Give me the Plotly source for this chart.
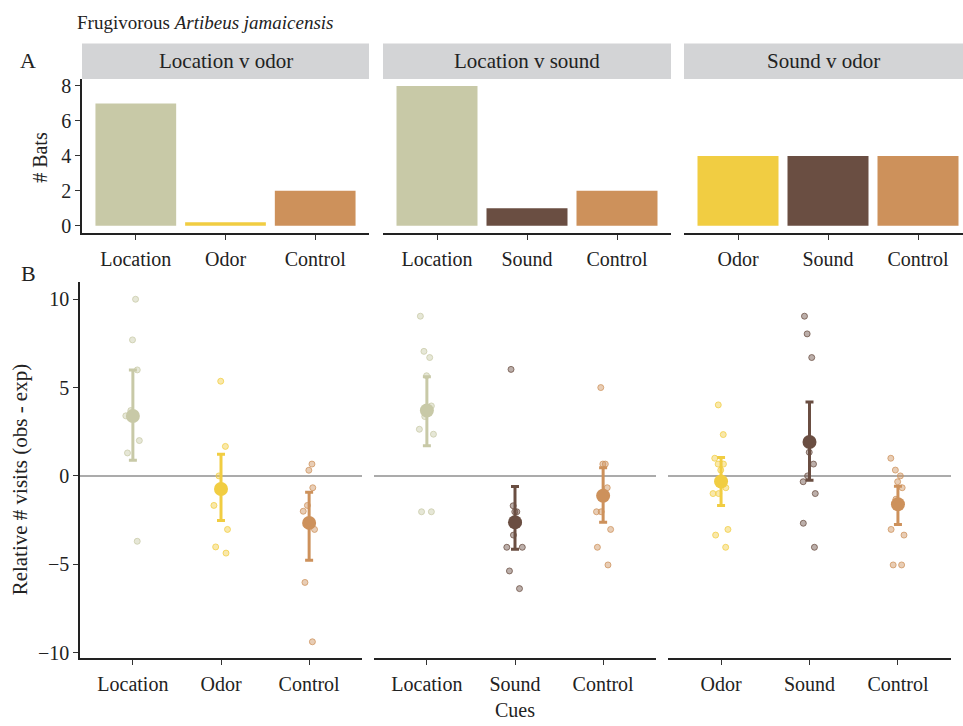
import plotly.graph_objects as go

W, H = 963, 726
FONT = "Liberation Serif"
TXT = "#222222"

# ---------------- data ----------------
panel_titles = ["Location v odor", "Location v sound", "Sound v odor"]
cues_1 = ["Location", "Odor", "Control"]
cues_2 = ["Location", "Sound", "Control"]
cues_3 = ["Odor", "Sound", "Control"]

# A: number of bats choosing each cue
bats_1 = [7, 0.2, 2]
bats_2 = [8, 1, 2]
bats_3 = [4, 4, 4]

# B: relative number of visits (obs - exp) per bat
p1_location = [10.0, 7.7, 6.0, 3.7, 3.4, 2.0, 1.3, -3.7]
p1_odor = [5.36, 1.67, 0.0, -1.67, -3.03, -4.02, -4.37]
p1_control = [0.67, 0.32, -0.67, -1.67, -2.0, -3.03, -6.03, -9.39]

p2_location = [9.04, 7.05, 6.7, 5.67, 3.96, 3.36, 2.64, 2.36, -2.03, -2.03]
p2_sound = [6.03, -1.69, -2.03, -2.03, -2.7, -3.35, -4.04, -4.04, -5.38, -6.38]
p2_control = [5.0, 0.67, 0.67, -0.67, -2.03, -2.03, -3.03, -4.04, -5.04]

p3_odor = [4.02, 2.34, 1.0, 0.67, 0.67, 0.33, -0.67, -1.0, -1.0, -3.03, -3.35, -4.04]
p3_sound = [9.04, 8.04, 6.7, 1.34, 0.67, 0.0, -0.33, -1.0, -2.68, -4.04]
p3_control = [1.0, 0.33, 0.0, -0.33, -0.67, -1.32, -3.03, -3.35, -5.04, -5.04]

# means and confidence limits
mean_1 = [3.39, -0.74, -2.66]
lo_1 = [0.89, -2.53, -4.78]
hi_1 = [6.0, 1.23, -0.93]

mean_2 = [3.7, -2.62, -1.12]
lo_2 = [1.71, -4.15, -2.62]
hi_2 = [5.62, -0.6, 0.46]

mean_3 = [-0.32, 1.92, -1.6]
lo_3 = [-1.67, -0.24, -2.75]
hi_3 = [1.04, 4.19, -0.58]

top_ticks = [0, 2, 4, 6, 8]
bottom_ticks = [-10, -5, 0, 5, 10]

# ---------------- styling ----------------
COLORS = {"Location": "#C8C9A7", "Odor": "#F1CD42", "Sound": "#6A4E42", "Control": "#CD915B"}
FS = 20


def rgba(hexc, a):
    h = hexc.lstrip("#")
    r, g, b = int(h[0:2], 16), int(h[2:4], 16), int(h[4:6], 16)
    return f"rgba({r},{g},{b},{a})"


def fx(px):
    return px / W


def fy(py):
    return 1 - py / H


top_dom_x = [(82, 369), (383, 671), (684, 963)]
top_ranges_x = [[-0.6, 2.6], [-0.6, 2.6], [-0.6, 2.5]]
top_dom_y = (76, 232)
bot_dom_x = [(80, 362), (374, 656), (668, 951)]
bot_dom_y = (282, 663)

fig = go.Figure()

cue_sets = [cues_1, cues_2, cues_3]
bat_sets = [bats_1, bats_2, bats_3]
point_sets = [[p1_location, p1_odor, p1_control],
              [p2_location, p2_sound, p2_control],
              [p3_odor, p3_sound, p3_control]]
mean_sets = [mean_1, mean_2, mean_3]
lo_sets = [lo_1, lo_2, lo_3]
hi_sets = [hi_1, hi_2, hi_3]

layout_axes = {}
shapes = []
annotations = []

for i in range(3):
    cues = cue_sets[i]
    xa_top = f"x{i+1}"
    ya_top = f"y{i+1}"
    xa_bot = f"x{i+4}"
    ya_bot = f"y{i+4}"

    # bars (panel A)
    fig.add_trace(go.Bar(
        x=cues, y=bat_sets[i], xaxis=xa_top, yaxis=ya_top,
        marker=dict(color=[COLORS[c] for c in cues], line=dict(width=0)),
        width=0.9, showlegend=False, hoverinfo="skip"))

    # jittered points (panel B)
    for c, vals in zip(cues, point_sets[i]):
        fig.add_trace(go.Box(
            x=[c] * len(vals), y=vals, xaxis=xa_bot, yaxis=ya_bot,
            boxpoints="all", jitter=0.55, pointpos=0, width=0.4,
            fillcolor="rgba(0,0,0,0)", line=dict(width=0, color="rgba(0,0,0,0)"),
            marker=dict(size=6, color=rgba(COLORS[c], 0.45),
                        line=dict(width=1, color=rgba(COLORS[c], 0.75))),
            showlegend=False, hoverinfo="skip"))

    # means with error bars
    for c, m, lo, hi in zip(cues, mean_sets[i], lo_sets[i], hi_sets[i]):
        fig.add_trace(go.Scatter(
            x=[c], y=[m], xaxis=xa_bot, yaxis=ya_bot, mode="markers",
            marker=dict(size=14, color=COLORS[c]),
            error_y=dict(type="data", symmetric=False, array=[hi - m], arrayminus=[m - lo],
                         thickness=3, width=4, color=COLORS[c]),
            showlegend=False, hoverinfo="skip"))

    common_x = dict(type="category", categoryorder="array", categoryarray=cues,
                    showline=True, linecolor="#222222", linewidth=1.6,
                    ticks="outside", ticklen=5, tickwidth=1.4, tickcolor="#333333",
                    ticklabelstandoff=2,
                    tickfont=dict(family=FONT, size=FS, color=TXT),
                    showgrid=False, zeroline=False, fixedrange=True)
    layout_axes[f"xaxis{i+1}"] = dict(common_x, domain=[fx(top_dom_x[i][0]), fx(top_dom_x[i][1])],
                                      range=top_ranges_x[i], anchor=ya_top)
    layout_axes[f"xaxis{i+4}"] = dict(common_x, domain=[fx(bot_dom_x[i][0]), fx(bot_dom_x[i][1])],
                                      range=[-0.6, 2.6], anchor=ya_bot)

    first = (i == 0)
    common_y = dict(showgrid=False, zeroline=False, fixedrange=True,
                    showline=first, linecolor="#222222", linewidth=1.6,
                    ticks="outside" if first else "", ticklen=5, tickwidth=1.4, tickcolor="#333333",
                    showticklabels=first,
                    tickfont=dict(family=FONT, size=FS, color=TXT))
    layout_axes[f"yaxis{i+1}"] = dict(common_y, domain=[fy(top_dom_y[1]), fy(top_dom_y[0])],
                                      range=[-0.4, 8.4], tickvals=top_ticks, anchor=xa_top)
    layout_axes[f"yaxis{i+4}"] = dict(common_y, domain=[fy(bot_dom_y[1]), fy(bot_dom_y[0])],
                                      range=[-10.3, 10.97], tickvals=bottom_ticks, anchor=xa_bot)

    # strip
    shapes.append(dict(type="rect", xref="paper", yref="paper",
                       x0=fx(top_dom_x[i][0]), x1=fx(top_dom_x[i][1]), y0=fy(76), y1=fy(40),
                       fillcolor="#D3D4D6", line=dict(width=0), layer="below"))
    annotations.append(dict(text=panel_titles[i], xref="paper", yref="paper",
                            x=(fx(top_dom_x[i][0]) + fx(top_dom_x[i][1])) / 2, y=fy(58),
                            showarrow=False, xanchor="center", yanchor="middle",
                            font=dict(family=FONT, size=21, color=TXT)))
    # zero line
    shapes.append(dict(type="line", xref=f"{xa_bot} domain", yref=ya_bot,
                       x0=0, x1=1, y0=0, y1=0, line=dict(color="#ABABAB", width=2), layer="below"))

annotations += [
    dict(text="Frugivorous <i>Artibeus jamaicensis</i>", xref="paper", yref="paper",
         x=fx(75), y=fy(19), xanchor="left", yanchor="middle", showarrow=False,
         font=dict(family=FONT, size=19, color=TXT)),
    dict(text="A", xref="paper", yref="paper", x=fx(28), y=fy(57), xanchor="center", yanchor="middle",
         showarrow=False, font=dict(family=FONT, size=22, color=TXT)),
    dict(text="B", xref="paper", yref="paper", x=fx(28), y=fy(273), xanchor="center", yanchor="middle",
         showarrow=False, font=dict(family=FONT, size=22, color=TXT)),
    dict(text="# Bats", xref="paper", yref="paper", x=fx(40), y=fy(156), xanchor="center", yanchor="middle",
         textangle=-90, showarrow=False, font=dict(family=FONT, size=FS, color=TXT)),
    dict(text="Relative # visits (obs - exp)", xref="paper", yref="paper", x=fx(20), y=fy(482),
         xanchor="center", yanchor="middle", textangle=-90, showarrow=False,
         font=dict(family=FONT, size=21, color=TXT)),
    dict(text="Cues", xref="paper", yref="paper", x=fx(515), y=fy(716), xanchor="center", yanchor="middle",
         showarrow=False, font=dict(family=FONT, size=FS, color=TXT)),
]

fig.update_layout(
    width=W, height=H, margin=dict(l=0, r=0, t=0, b=0),
    paper_bgcolor="white", plot_bgcolor="white",
    boxmode="overlay", bargap=0.1,
    shapes=shapes, annotations=annotations,
    font=dict(family=FONT, color=TXT),
    **layout_axes)

fig.write_html("out.html", config={"displayModeBar": False},
               post_script="document.body.style.margin='0px';document.body.style.overflow='hidden';")
